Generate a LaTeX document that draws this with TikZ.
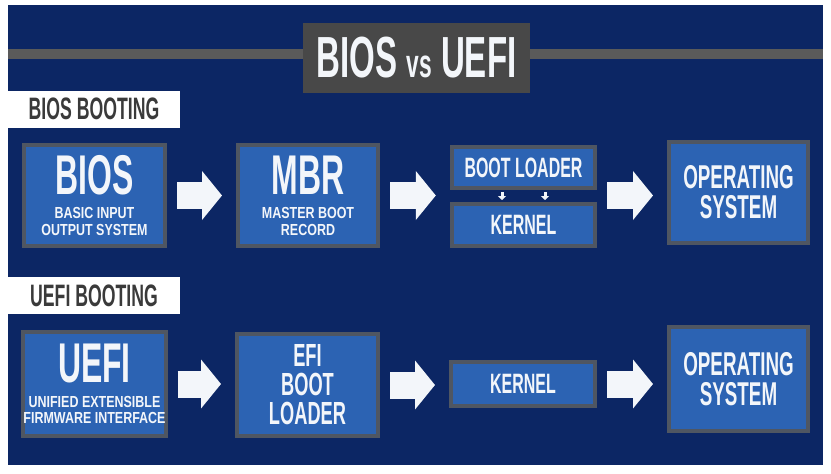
\documentclass[tikz,border=0pt]{standalone}
\usepackage{fontspec}
\newfontfamily\condfont{Liberation Sans}[FakeStretch=0.57]
\newfontfamily\narrowfont{Liberation Sans}[FakeStretch=0.78]
\usetikzlibrary{arrows.meta,fit}
\definecolor{navy}{HTML}{0C2664}
\definecolor{boxblue}{HTML}{2C63B3}
\definecolor{rimgray}{HTML}{4F5662}
\definecolor{titlegray}{HTML}{484848}
\definecolor{linegray}{HTML}{5A5A5A}
\definecolor{labelink}{HTML}{3A3A3A}
\definecolor{offwhite}{HTML}{F3F6FA}
\tikzset{
	stagebox/.style={draw=rimgray, line width=4pt, fill=boxblue, text=offwhite, align=center, inner sep=0pt},
	rowlabel/.style={fill=white, text=labelink, minimum width=172pt, minimum height=37pt, inner sep=0pt, font=\condfont\bfseries\fontsize{31}{31}\selectfont},
	bigarrow/.style={draw=offwhite, line width=27pt, -{Triangle[length=20pt,width=48pt]}, shorten <=10pt, shorten >=14pt},
	tinyarrow/.style={draw=offwhite, line width=3pt, -{Triangle[length=4pt,width=8pt]}, shorten <=2pt, shorten >=2pt}
}
\newcommand{\bigword}[1]{{\condfont\fontsize{56}{56}\selectfont #1}}
\begin{document}
\begin{tikzpicture}[x=1pt,y=-1pt]
	\useasboundingbox (0,0) rectangle (831,474);
	\fill[navy] (8,5) rectangle (823,465);
	\draw[linegray, line width=10pt] (8,54) -- (823,54);
	\node[fill=titlegray, text=offwhite, minimum width=227pt, minimum height=70pt, inner sep=0pt,
		font=\condfont\bfseries\fontsize{58}{58}\selectfont] (title) at (416.5,58) {BIOS {\fontsize{40}{40}\selectfont vs} UEFI};

	\node[rowlabel] (biosrow) at (94,109) {BIOS BOOTING};
	\node[rowlabel] (uefirow) at (94,295.5) {UEFI BOOTING};

	\node[stagebox, minimum width=141pt, minimum height=101pt, font=\narrowfont\bfseries\fontsize{16}{16.5}\selectfont] (bios) at (94.5,195.5)
		{\bigword{BIOS}\\[8pt]BASIC INPUT\\OUTPUT SYSTEM};
	\node[stagebox, minimum width=140pt, minimum height=101pt, font=\narrowfont\bfseries\fontsize{16}{16.5}\selectfont] (mbr) at (308,195.5)
		{\bigword{MBR}\\[8pt]MASTER BOOT\\RECORD};
	\node[stagebox, minimum width=143pt, minimum height=41pt, font=\condfont\bfseries\fontsize{28}{28}\selectfont] (loader) at (523.5,167.5) {BOOT LOADER};
	\node[stagebox, minimum width=143pt, minimum height=42pt, font=\condfont\bfseries\fontsize{28}{28}\selectfont] (kernel) at (523.5,225) {KERNEL};
	\node[fit=(loader)(kernel), inner sep=0pt] (stack) {};
	\node[stagebox, minimum width=139pt, minimum height=101pt, font=\condfont\bfseries\fontsize{33}{30}\selectfont] (os) at (738.5,192.5) {OPERATING\\SYSTEM};

	\node[stagebox, minimum width=141pt, minimum height=104pt, font=\narrowfont\bfseries\fontsize{16}{16.5}\selectfont] (uefi) at (94.5,384)
		{\bigword{UEFI}\\[8pt]UNIFIED EXTENSIBLE\\FIRMWARE INTERFACE};
	\node[stagebox, minimum width=141pt, minimum height=102pt, font=\condfont\bfseries\fontsize{32}{29}\selectfont] (efi) at (307.5,385) {EFI\\BOOT\\LOADER};
	\node[stagebox, minimum width=144pt, minimum height=44pt, font=\condfont\bfseries\fontsize{28}{28}\selectfont] (uefikernel) at (523,384) {KERNEL};
	\node[stagebox, minimum width=139pt, minimum height=104pt, font=\condfont\bfseries\fontsize{33}{30}\selectfont] (uefios) at (738.5,379) {OPERATING\\SYSTEM};

	\draw[bigarrow] (bios.east) -- (bios.east -| mbr.west);
	\draw[bigarrow] (mbr.east) -- (mbr.east -| stack.west);
	\draw[bigarrow] (mbr.east -| stack.east) -- (mbr.east -| os.west);
	\draw[tinyarrow] ([xshift=-21.5pt]loader.south) -- ([xshift=-21.5pt]kernel.north);
	\draw[tinyarrow] ([xshift=21.5pt]loader.south) -- ([xshift=21.5pt]kernel.north);

	\draw[bigarrow] (uefi.east) -- (uefi.east -| efi.west);
	\draw[bigarrow] (efi.east) -- (efi.east -| uefikernel.west);
	\draw[bigarrow] (uefikernel.east) -- (uefikernel.east -| uefios.west);
\end{tikzpicture}
\end{document}
